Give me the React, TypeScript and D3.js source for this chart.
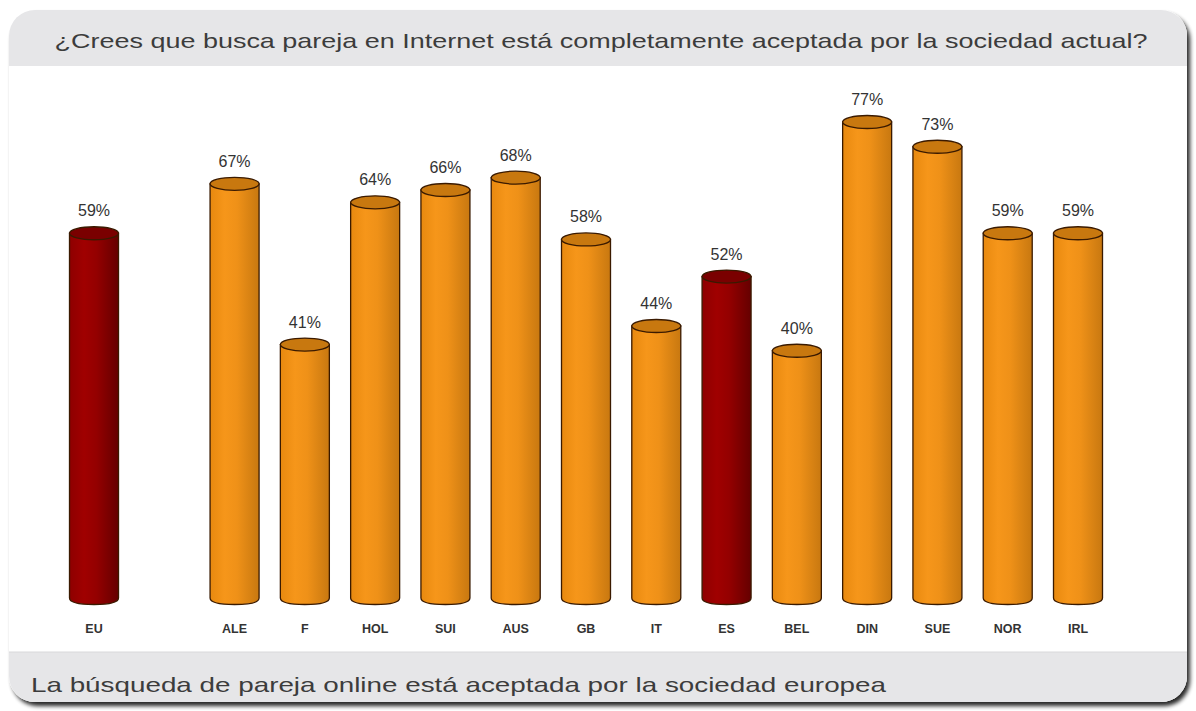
import React from "react";
import * as d3 from "d3";

const categories = ["EU", "", "ALE", "F", "HOL", "SUI", "AUS", "GB", "IT", "ES", "BEL", "DIN", "SUE", "NOR", "IRL"];
const values: (number | null)[] = [59, null, 67, 41, 64, 66, 68, 58, 44, 52, 40, 77, 73, 59, 59];
const highlighted = ["EU", "ES"];
const title = "¿Crees que busca pareja en Internet está completamente aceptada por la sociedad actual?";
const footer = "La búsqueda de pareja online está aceptada por la sociedad europea";

const W = 1196;
const H = 711;

export default function App() {
  const x = d3.scalePoint<string>().domain(categories.map((c, i) => c || "_gap" + i)).range([94, 1078]);
  const y = d3.scaleLinear().domain([0, 77]).range([598, 122]);
  const bw = 49;
  const ry = 6.5;
  const frame = { x: 9, y: 10, w: 1178, h: 692, r: 26 };
  return (
    <svg width={W} height={H} style={{ position: "absolute", left: 0, top: 0 }} fontFamily="Liberation Sans, Arial, sans-serif">
      <defs>
        <linearGradient id="gOr" x1="0" x2="1" y1="0" y2="0">
          <stop offset="0" stopColor="#e8890f" />
          <stop offset="0.3" stopColor="#f6961a" />
          <stop offset="0.55" stopColor="#ef9118" />
          <stop offset="1" stopColor="#c87810" />
        </linearGradient>
        <linearGradient id="gRd" x1="0" x2="1" y1="0" y2="0">
          <stop offset="0" stopColor="#8e0000" />
          <stop offset="0.3" stopColor="#a00000" />
          <stop offset="0.55" stopColor="#940000" />
          <stop offset="1" stopColor="#650000" />
        </linearGradient>
        <clipPath id="frameClip">
          <rect x={frame.x} y={frame.y} width={frame.w} height={frame.h} rx={frame.r} ry={frame.r} />
        </clipPath>
        <filter id="shadow" x="-5%" y="-5%" width="110%" height="115%">
          <feGaussianBlur in="SourceAlpha" stdDeviation="2" />
          <feOffset dx="3" dy="4" result="b" />
          <feComponentTransfer><feFuncA type="linear" slope="0.85" /></feComponentTransfer>
          <feMerge><feMergeNode /><feMergeNode in="SourceGraphic" /></feMerge>
        </filter>
      </defs>
      <rect x={0} y={0} width={W} height={H} fill="#ffffff" />
      <rect x={frame.x} y={frame.y} width={frame.w} height={frame.h} rx={frame.r} ry={frame.r} fill="#ffffff" filter="url(#shadow)" />
      <g clipPath="url(#frameClip)">
        <rect x={frame.x} y={frame.y} width={frame.w} height={56} fill="#e6e6e8" />
        <rect x={frame.x} y={652} width={frame.w} height={60} fill="#e6e6e8" />
        <line x1={frame.x} x2={frame.x + frame.w} y1={652} y2={652} stroke="#d8d8da" />
      </g>
      <text x={601} y={48} textAnchor="middle" fontSize={21} fill="#3c3c3c" textLength={1093} lengthAdjust="spacingAndGlyphs">{title}</text>
      <text x={31} y={692} fontSize={21} fill="#3c3c3c" textLength={855} lengthAdjust="spacingAndGlyphs">{footer}</text>
      {categories.map((c, i) => {
        const v = values[i];
        if (v == null || !c) return null;
        const cx = x(c || "_gap" + i)!;
        const isRed = highlighted.includes(c);
        const top = y(v);
        const base = y(0);
        const l = cx - bw / 2;
        const r = cx + bw / 2;
        const bodyPath = `M${l},${top} L${l},${base} Q${l},${base + ry} ${cx},${base + ry} Q${r},${base + ry} ${r},${base} L${r},${top} Z`;
        return (
          <g key={c}>
            <path d={bodyPath} fill={isRed ? "url(#gRd)" : "url(#gOr)"} stroke="#3a1a00" strokeWidth={1.3} />
            <ellipse cx={cx} cy={top} rx={bw / 2} ry={ry} fill={isRed ? "#7a0000" : "#c8780f"} stroke="#3a1a00" strokeWidth={1.3} />
            <text x={cx} y={top - 17} textAnchor="middle" fontSize={16} fill="#333">{v}%</text>
            <text x={cx} y={633} textAnchor="middle" fontSize={12.5} fontWeight="bold" fill="#333">{c}</text>
          </g>
        );
      })}
    </svg>
  );
}
